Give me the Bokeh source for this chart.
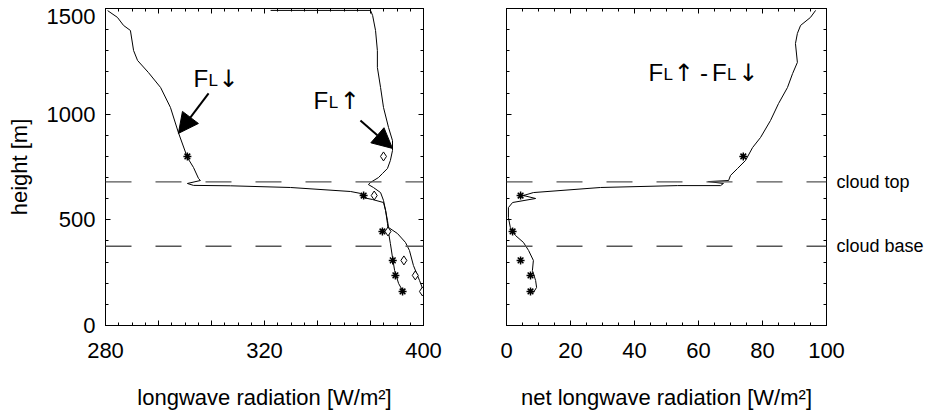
from bokeh.plotting import figure
from bokeh.models import (LinearAxis, SingleIntervalTicker, FixedTicker, Span, Label,
                          Arrow, NormalHead, Range1d)
from bokeh.layouts import row
from bokeh.embed import file_html
from bokeh.resources import INLINE

FONT = "Liberation Sans"
ARROW_FONT = "DejaVu Sans"

# ---------------- data ----------------
# downward longwave flux F_L(down) profile [W/m2] vs height [m]
fdown_w = [280.8, 284.5, 286.8, 289.4, 290.6, 292.1, 296.2, 300.8, 304.5, 307.5,
           310.9, 313.2, 315.1, 315.8, 310.9, 313.2, 327.2, 349.8, 372.5, 376.2,
           377.0, 380.8, 384.9, 385.7, 386.4, 386.8, 387.5, 388.3, 389.1, 390.6, 392.5]
fdown_h = [1490, 1458, 1420, 1396, 1301, 1254, 1197, 1126, 1032, 913,
           795, 748, 696, 686, 672, 663, 661, 653, 634, 625,
           606, 596, 582, 544, 483, 440, 388, 322, 260, 199, 156]

# upward longwave flux F_L(up) profile
fup_w = [342.3, 380.0, 380.8, 381.9, 382.6, 382.6, 383.8, 384.9, 386.8, 388.3,
         388.3, 387.5, 386.4, 384.5, 383.0, 380.0, 379.2, 381.1, 383.8, 384.9,
         385.7, 386.4, 386.8, 390.2, 393.2, 394.7, 396.2, 398.5, 399.5, 400.0]
fup_h = [1491, 1491, 1467, 1396, 1301, 1221, 1126, 1032, 937, 875,
         828, 781, 743, 719, 700, 677, 667, 653, 629, 592,
         544, 497, 464, 435, 393, 355, 284, 213, 180, 156]

# net longwave radiation F_L(up) - F_L(down)
net_v = [96.6, 95.0, 91.9, 90.9, 90.3, 90.9, 89.4, 87.8, 85.0, 82.5,
         79.4, 76.9, 74.7, 72.2, 70.0, 69.4, 63.1, 67.8, 66.9, 53.4,
         29.4, 8.4, 5.3, 9.1, 1.9, 0.6, 0.6, 1.2, 1.9, 2.8,
         5.3, 6.9, 8.4, 8.1, 9.1, 9.4, 8.4]
net_h = [1491, 1458, 1420, 1382, 1334, 1245, 1192, 1126, 1050, 970,
         890, 842, 781, 743, 710, 686, 681, 672, 662, 662,
         653, 629, 615, 601, 582, 558, 511, 464, 445, 426,
         393, 355, 308, 260, 213, 180, 156]

# discrete observations
obs_h = [800, 615, 445, 308, 237, 161]
obs_down = [310.9, 377.4, 384.5, 388.4, 389.4, 392.1]
obs_up = [384.9, 381.4, 386.6, 392.6, 396.9, 399.6]
obs_net = [74.0, 4.4, 1.9, 4.4, 7.5, 7.5]

cloud_top = 680
cloud_base = 375

# tick labels as printed
left_tick_labels = {280: "280", 300: "", 320: "", 340: "320", 360: "", 380: "", 400: "400"}
height_label_pos = [0, 500, 1000, 1462]          # top label is printed a little below its tick
height_labels = {0: "0", 500: "500", 1000: "1000", 1462: "1500"}

FIG_H = 416

# ---------------- helpers ----------------
def make_fig(width, xr, mb_left, mb_right):
    p = figure(width=width, height=FIG_H, x_range=xr, y_range=Range1d(0, 1500),
               output_backend="svg", toolbar_location=None,
               min_border_left=mb_left, min_border_right=mb_right,
               min_border_top=8, min_border_bottom=FIG_H - 8 - 317,
               x_axis_location=None, y_axis_location=None)
    p.grid.visible = False
    p.outline_line_color = "black"
    p.outline_line_width = 1
    p.background_fill_color = "white"
    p.border_fill_color = "white"
    return p


def style_axis(ax, labels=True):
    ax.major_tick_in = 5
    ax.major_tick_out = 0
    ax.minor_tick_in = 3
    ax.minor_tick_out = 0
    ax.axis_line_color = "black"
    ax.major_tick_line_color = "black"
    ax.minor_tick_line_color = "black"
    ax.axis_label_text_font = FONT
    ax.axis_label_text_font_style = "normal"
    ax.axis_label_text_font_size = "22px"
    ax.axis_label_text_color = "black"
    ax.major_label_text_font = FONT
    ax.major_label_text_color = "black"
    if labels:
        ax.major_label_text_font_size = "22px"
    else:
        ax.major_label_text_font_size = "0px"
        ax.major_label_standoff = 0
    return ax


def label_only(ax):
    ax.major_tick_in = 0
    ax.major_tick_out = 0
    ax.minor_tick_in = 0
    ax.minor_tick_out = 0
    ax.axis_line_color = None
    ax.major_tick_line_color = None
    ax.minor_tick_line_color = None
    return ax


def xticker():
    return SingleIntervalTicker(interval=20, num_minor_ticks=4)


def yticker():
    return SingleIntervalTicker(interval=500, num_minor_ticks=5)


def add_cloud_lines(p):
    for loc in (cloud_top, cloud_base):
        p.add_layout(Span(location=loc, dimension="width", line_color="#555555",
                          line_width=1.3, line_dash="26 24"))


def add_text(p, x, y, text, size, font=FONT):
    p.add_layout(Label(x=x, y=y, text=text, text_font=font, text_font_size=size,
                       text_color="black", text_align="left",
                       text_baseline="alphabetic"))

# ---------------- left panel ----------------
p1 = make_fig(480, Range1d(280, 400), 105, 57)

xb = style_axis(LinearAxis(ticker=xticker(), axis_label="longwave radiation [W/m²]"))
xb.major_label_overrides = left_tick_labels
xb.major_label_standoff = 17
xb.axis_label_standoff = 24
p1.add_layout(xb, "below")

# left: ticks first (no labels), then the printed labels
p1.add_layout(style_axis(LinearAxis(ticker=yticker()), labels=False), "left")
yl = label_only(style_axis(LinearAxis(ticker=FixedTicker(ticks=height_label_pos),
                                      axis_label="height [m]")))
yl.major_label_overrides = height_labels
yl.major_label_standoff = 10
yl.axis_label_standoff = 12
p1.add_layout(yl, "left")

p1.add_layout(style_axis(LinearAxis(ticker=xticker()), labels=False), "above")
p1.add_layout(style_axis(LinearAxis(ticker=yticker()), labels=False), "right")

add_cloud_lines(p1)

p1.line(fdown_w, fdown_h, line_color="black", line_width=1)
p1.line(fup_w, fup_h, line_color="black", line_width=1)
p1.scatter(obs_down, obs_h, marker="asterisk", size=8, line_color="black", line_width=1.5)
p1.scatter(obs_up, obs_h, marker="diamond", size=9, fill_color="white",
           line_color="black", line_width=1)

# F_L down label + arrow
add_text(p1, 313.2, 1169, "F", "24px")
add_text(p1, 318.9, 1160, "L", "17px")
add_text(p1, 322.6, 1166, "↓", "24px", ARROW_FONT)
p1.add_layout(Arrow(end=NormalHead(size=20, fill_color="black", line_color="black"),
                    x_start=318.9, y_start=1098, x_end=307.5, y_end=909,
                    line_color="black", line_width=2))
# F_L up label + arrow
add_text(p1, 358.5, 1065, "F", "24px")
add_text(p1, 364.2, 1056, "L", "17px")
add_text(p1, 368.4, 1062, "↑", "24px", ARROW_FONT)
p1.add_layout(Arrow(end=NormalHead(size=20, fill_color="black", line_color="black"),
                    x_start=376.2, y_start=970, x_end=388.3, y_end=838,
                    line_color="black", line_width=2))

# ---------------- right panel ----------------
p2 = make_fig(448, Range1d(0, 100), 26, 102)

xb2 = style_axis(LinearAxis(ticker=xticker(), axis_label="net longwave radiation [W/m²]"))
xb2.major_label_standoff = 17
xb2.axis_label_standoff = 24
p2.add_layout(xb2, "below")

p2.add_layout(style_axis(LinearAxis(ticker=yticker()), labels=False), "left")
p2.add_layout(style_axis(LinearAxis(ticker=xticker()), labels=False), "above")
p2.add_layout(style_axis(LinearAxis(ticker=yticker()), labels=False), "right")

cl = label_only(LinearAxis(ticker=FixedTicker(ticks=[cloud_base, cloud_top])))
cl.major_label_overrides = {cloud_top: "cloud top", cloud_base: "cloud base"}
cl.major_label_standoff = 10
cl.major_label_text_font = FONT
cl.major_label_text_font_size = "18px"
cl.major_label_text_color = "black"
p2.add_layout(cl, "right")

add_cloud_lines(p2)

p2.line(net_v, net_h, line_color="black", line_width=1)
p2.scatter(obs_net, obs_h, marker="asterisk", size=8, line_color="black", line_width=1.5)

add_text(p2, 44.4, 1197, "F", "24px")
add_text(p2, 49.1, 1188, "L", "17px")
add_text(p2, 52.3, 1194, "↑", "24px", ARROW_FONT)
add_text(p2, 60.5, 1197, "-", "24px")
add_text(p2, 64.2, 1197, "F", "24px")
add_text(p2, 68.9, 1188, "L", "17px")
add_text(p2, 72.4, 1194, "↓", "24px", ARROW_FONT)

layout = row(p1, p2)
open("out.html", "w").write(file_html(layout, INLINE))
